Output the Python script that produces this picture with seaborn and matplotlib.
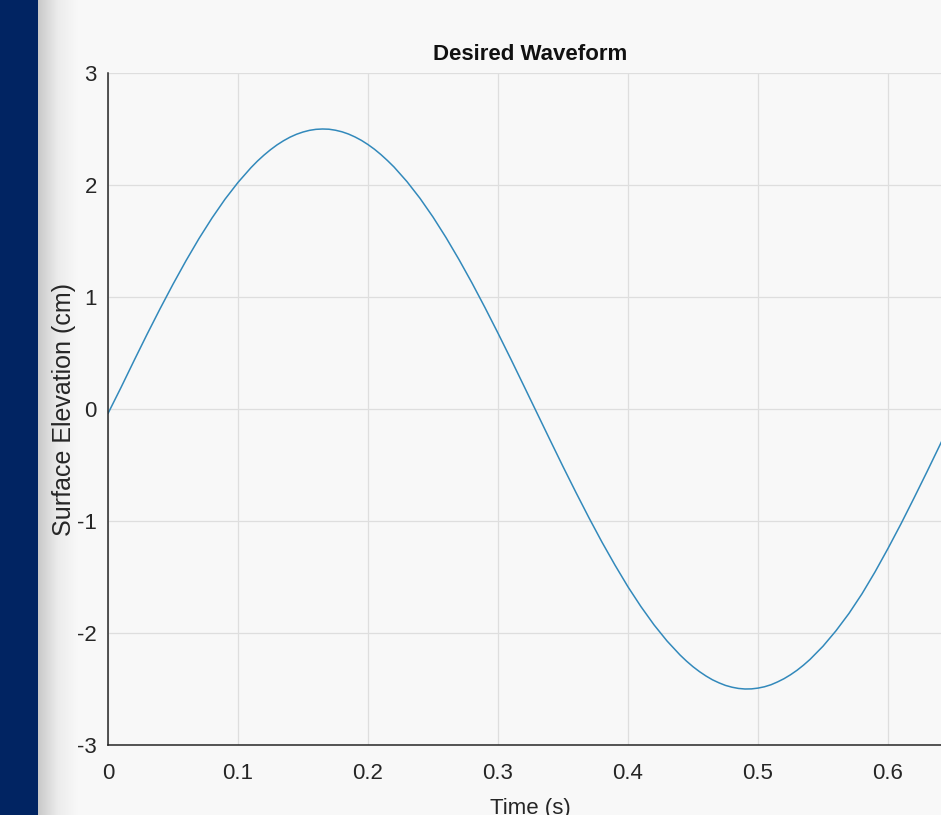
import numpy as np
import seaborn as sns
from matplotlib import pyplot as plt
from matplotlib.patches import Rectangle

# values (extra points around the crest and trough)
time_s = [0.00, 0.01, 0.02, 0.03, 0.04, 0.05, 0.06, 0.07, 0.08, 0.09,
          0.10, 0.11, 0.115, 0.12, 0.125, 0.13, 0.135, 0.14, 0.145, 0.15,
          0.155, 0.16, 0.165, 0.17, 0.175, 0.18, 0.185, 0.19, 0.195, 0.20,
          0.205, 0.21, 0.215, 0.22, 0.23, 0.24, 0.25, 0.26, 0.27, 0.28,
          0.29, 0.30, 0.31, 0.32, 0.33, 0.34, 0.35, 0.36, 0.37, 0.38,
          0.39, 0.40, 0.41, 0.42, 0.43, 0.44, 0.445, 0.45, 0.455, 0.46,
          0.465, 0.47, 0.475, 0.48, 0.485, 0.49, 0.495, 0.50, 0.505, 0.51,
          0.515, 0.52, 0.525, 0.53, 0.535, 0.54, 0.55, 0.56, 0.57, 0.58,
          0.59, 0.60, 0.61, 0.62, 0.63, 0.64, 0.65]
elevation_cm = [-0.040, 0.192, 0.431, 0.666, 0.894, 1.114, 1.324, 1.522, 1.705, 1.873,
                2.023, 2.155, 2.214, 2.267, 2.315, 2.358, 2.395, 2.427, 2.453, 2.473,
                2.488, 2.497, 2.500, 2.498, 2.489, 2.475, 2.455, 2.429, 2.398, 2.361,
                2.319, 2.271, 2.218, 2.161, 2.030, 1.881, 1.714, 1.531, 1.334, 1.125,
                0.905, 0.677, 0.443, 0.204, -0.036, -0.276, -0.514, -0.746, -0.972, -1.189,
                -1.394, -1.588, -1.765, -1.927, -2.071, -2.196, -2.251, -2.301, -2.345, -2.384,
                -2.418, -2.445, -2.468, -2.484, -2.495, -2.500, -2.499, -2.492, -2.480, -2.462,
                -2.437, -2.408, -2.373, -2.333, -2.287, -2.236, -2.118, -1.980, -1.825, -1.650,
                -1.455, -1.245, -1.025, -0.795, -0.560, -0.320, -0.078]

x_ticks = [0, 0.1, 0.2, 0.3, 0.4, 0.5, 0.6]
x_tick_labels = ["0", "0.1", "0.2", "0.3", "0.4", "0.5", "0.6"]
y_ticks = [-3, -2, -1, 0, 1, 2, 3]
y_tick_labels = ["-3", "-2", "-1", "0", "1", "2", "3"]

sns.set_theme(style="whitegrid")
plt.rcParams["font.family"] = ["Liberation Sans", "DejaVu Sans"]

bg = "#f8f8f8"
ink = "#262626"
W, H = 941, 815

fig = plt.figure(figsize=(W / 100, H / 100), dpi=100, facecolor=bg)

# left navy strip and its shadow
fig.patches.append(Rectangle((0, 0), 38 / W, 1, transform=fig.transFigure,
                             facecolor="#012462", edgecolor="none", zorder=-5))
shade = fig.add_axes([38 / W, 0, 40 / W, 1], zorder=-4)
grad = np.linspace(0.0, 1.0, 64)[None, :]
shade.imshow(grad, aspect="auto", cmap=sns.blend_palette(["#c9c9c9", "#ececec", bg], as_cmap=True),
             extent=[0, 1, 0, 1])
shade.axis("off")

# axes box: left 108px, bottom 745px, top 73px, right at 953px (beyond the crop)
ax = fig.add_axes([108 / W, (H - 745) / H, (953 - 108) / W, (745 - 73) / H])
ax.set_facecolor(bg)

sns.lineplot(x=time_s, y=elevation_cm, ax=ax, color="#3289bb", linewidth=1.1)
for ln in ax.lines:
    ln.set_solid_joinstyle("round")

ax.set_xlim(0, 0.65)
ax.set_ylim(-3, 3)
ax.set_xticks(x_ticks)
ax.set_xticklabels(x_tick_labels)
ax.set_yticks(y_ticks)
ax.set_yticklabels(y_tick_labels)

ax.grid(True, color="#dedede", linewidth=0.9)
for side in ["top", "right"]:
    ax.spines[side].set_visible(False)
for side in ["left", "bottom"]:
    ax.spines[side].set_color(ink)
    ax.spines[side].set_linewidth(1.1)

ax.tick_params(axis="both", direction="in", length=7, width=1.0, color=ink,
               labelcolor=ink, labelsize=16)
ax.tick_params(axis="x", pad=13)
ax.tick_params(axis="y", pad=8)

ax.set_title("Desired Waveform", fontsize=16, fontweight="bold", color="#111111", pad=9)
ax.set_xlabel("Time (s)", fontsize=16, color=ink, labelpad=10)
ax.set_ylabel("Surface Elevation (cm)", fontsize=18, color=ink, labelpad=1)

fig.savefig("out.png", dpi=100, facecolor=bg)
